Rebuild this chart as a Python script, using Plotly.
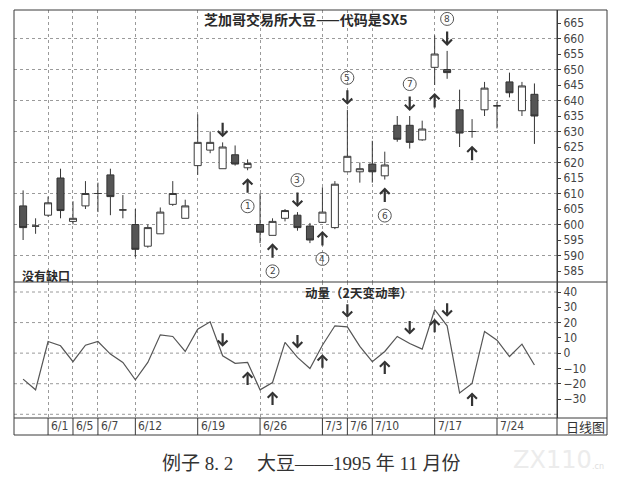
import plotly.graph_objects as go

# ---------------- data ----------------
idx = list(range(42))
opens = [606, 599.5, 603, 615, 601, 606, 610, 616, 604.7, 600,
         593, 597, 606.5, 602, 619, 624, 618, 622.5, 618.3, 600,
         596.5, 602, 603, 599.5, 600.7, 599, 617, 617, 619.5, 615.7,
         632, 632, 627.3, 650.7, 650, 637, 630, 637, 638.3, 646,
         636.7, 642]
highs = [611, 602, 609, 618, 607.5, 614, 613.5, 618, 609.5, 605,
         600, 605.5, 614, 608, 635.5, 630, 626.5, 625.5, 621, 610,
         602, 605, 604, 600.5, 612, 614, 637, 620, 627, 623.5,
         635, 635, 633.5, 661, 656, 643.5, 634, 646, 639.5, 649,
         646, 645.5]
lows = [595, 597, 602.5, 602, 600, 605, 604, 603, 602, 589.5,
        592.5, 597, 606, 602, 616, 623, 618, 619, 617.5, 594,
        596.5, 601, 598, 594, 600.5, 598.5, 617, 613.5, 613.5, 614.5,
        626.7, 624.5, 627, 645, 647, 625, 628, 635, 631, 641,
        635, 626]
closes = [599, 599.5, 607, 604.5, 602, 610, 610, 609, 604.7, 592,
          599, 604, 610, 606, 626.5, 626.5, 625, 619.5, 619.7, 597.5,
          601, 604.5, 599, 595, 604, 613, 622, 618, 617, 619.2,
          627.5, 626.5, 630.8, 655, 649, 629.5, 630, 644, 638.3, 642.5,
          644.7, 635]
momentum = [-17, -24, 7.6, 4.8, -5.6, 5.2, 7.6, -0.6, -6.1, -17.4,
            -6.1, 12, 10.9, 1.1, 15.7, 20.5, -1.7, -6.7, -6.1, -24,
            -19.2, 7, -2.8, -10, 5.2, 17.9, 17.2, 4.4, -5.6, 1.1,
            10.9, 6.3, 2.6, 28.4, 17.9, -26.1, -19.8, 14.2, 8.5, -2.2,
            5.9, -7.8]

date_idx = [2, 4, 6, 9, 14, 19, 24, 26, 28, 33, 38]
date_labels = ["6/1", "6/5", "6/7", "6/12", "6/19", "6/26",
               "7/3", "7/6", "7/10", "7/17", "7/24"]
price_ticks = list(range(585, 670, 5))
price_grid = list(range(590, 670, 10))
mom_ticks = list(range(-30, 50, 10))
mom_grid = [-40, -20, 0, 20, 40]

arrow_down = [16, 22, 26, 31, 34]
arrow_up = [18, 20, 24, 29, 33, 36]
circle_idx = [18, 20, 22, 24, 26, 29, 31, 34]
circle_num = ["1", "2", "3", "4", "5", "6", "7", "8"]

title_text = "芝加哥交易所大豆——代码是SX5"
gap_text = "没有缺口"
mom_text = "动量（2天变动率）"
chart_type = "日线图"
caption = "例子 8. 2　 大豆——1995 年 11 月份"

# ---------------- geometry ----------------
# the page body has an 8px margin, so the figure is drawn 8px smaller and
# every reference position is shifted by that margin.
BODY = 8
W, H = 620 - BODY, 477 - BODY
ML = 14 - BODY
MT = 10 - BODY
PW, PH = 543, 408
MR = W - ML - PW
MB = H - MT - PH


def px(x):
    return (x - 14) / PW


def py(y):
    return (418 - y) / PH


SPLIT = py(282)
ROW_BOT = py(435)
RIGHT_EDGE = px(607)

INK = "#3a3a3a"
GRID = "#9a9a9a"
NARROW = "Liberation Sans Narrow, Arial Narrow, DejaVu Sans Condensed, sans-serif"
CJK = "Noto Sans CJK SC, sans-serif"

fig = go.Figure()

fig.add_trace(go.Candlestick(
    x=idx, open=opens, high=highs, low=lows, close=closes,
    increasing=dict(line=dict(color=INK, width=1), fillcolor="white"),
    decreasing=dict(line=dict(color="#333333", width=1), fillcolor="#555555"),
    whiskerwidth=0, xaxis="x", yaxis="y", showlegend=False, hoverinfo="skip"))

fig.add_trace(go.Scatter(
    x=idx, y=momentum, mode="lines", line=dict(color="#555555", width=1.2),
    xaxis="x2", yaxis="y2", showlegend=False, hoverinfo="skip"))

shapes = []
annotations = []

# horizontal dotted grids
for g in price_grid:
    shapes.append(dict(type="line", xref="paper", yref="y", x0=0, x1=1, y0=g, y1=g,
                       line=dict(color=GRID, width=1, dash="dot"), layer="below"))
for g in mom_grid:
    shapes.append(dict(type="line", xref="paper", yref="y2", x0=0, x1=1, y0=g, y1=g,
                       line=dict(color=GRID, width=1, dash="dot"), layer="below"))

# frame
shapes.append(dict(type="rect", xref="paper", yref="paper", x0=0, x1=RIGHT_EDGE,
                   y0=ROW_BOT, y1=1, line=dict(color=INK, width=1)))
for yy in (SPLIT, 0):
    shapes.append(dict(type="line", xref="paper", yref="paper", x0=0, x1=RIGHT_EDGE,
                       y0=yy, y1=yy, line=dict(color=INK, width=1)))
shapes.append(dict(type="line", xref="paper", yref="paper", x0=1, x1=1,
                   y0=ROW_BOT, y1=1, line=dict(color=INK, width=1)))

# date label row
for d, lab in zip(date_idx, date_labels):
    shapes.append(dict(type="line", xref="x", yref="paper", x0=d, x1=d,
                       y0=ROW_BOT, y1=0, line=dict(color=INK, width=1)))
    annotations.append(dict(x=d, y=(ROW_BOT) / 2, xref="x", yref="paper",
                            text=lab, showarrow=False, xanchor="left", yanchor="middle",
                            xshift=1, font=dict(family=NARROW, size=12, color="#444")))

# arrows on the candles and the momentum line
ARW = dict(showarrow=True, arrowhead=4, arrowsize=0.85, arrowwidth=2.2,
           arrowcolor="#333333", ax=0, text="")
for i in arrow_down:
    annotations.append(dict(x=i, y=highs[i], xref="x", yref="y", ay=-16, yshift=5, **ARW))
    annotations.append(dict(x=i, y=momentum[i], xref="x2", yref="y2", ay=-15, yshift=9, **ARW))
for i in arrow_up:
    annotations.append(dict(x=i, y=lows[i], xref="x", yref="y", ay=16, yshift=-8, **ARW))
    annotations.append(dict(x=i, y=momentum[i], xref="x2", yref="y2", ay=15, yshift=-9, **ARW))

# numbered circles
for i, n in zip(circle_idx, circle_num):
    if i in arrow_down:
        anchor, off = highs[i], 32
    else:
        anchor, off = lows[i], -36
    shapes.append(dict(type="circle", xref="x", yref="y", xsizemode="pixel",
                       ysizemode="pixel", xanchor=i, yanchor=anchor,
                       x0=-6.5, x1=6.5, y0=off - 6.5, y1=off + 6.5,
                       line=dict(color="#555", width=1)))
    annotations.append(dict(x=i, y=anchor, xref="x", yref="y", yshift=off,
                            text=n, showarrow=False, xanchor="center", yanchor="middle",
                            font=dict(family="DejaVu Sans, sans-serif", size=9, color="#444")))


def label(x, y, text, font, xanchor="center"):
    annotations.append(dict(x=x, y=y, xref="paper", yref="paper", text=text,
                            showarrow=False, xanchor=xanchor, yanchor="middle", font=font))


label(px(306), py(19), title_text,
      dict(family=CJK, size=14, color="#2a2a2a", weight="bold"))
label(px(20), py(275), gap_text,
      dict(family=CJK, size=12, color="#2a2a2a", weight="bold"), xanchor="left")
label(px(358), py(292), mom_text,
      dict(family=CJK, size=12.5, color="#2a2a2a", weight="bold"))
label(px(585), ROW_BOT / 2, chart_type,
      dict(family=CJK, size=13, color="#333"))
label(px(311), py(463), caption,
      dict(family="Liberation Serif, Noto Sans CJK SC, serif", size=19, color="#333"))
label(px(552), py(460), "ZX110",
      dict(family="DejaVu Sans, sans-serif", size=24, color="#ececec"))
label(px(598), py(466), ".cn",
      dict(family="DejaVu Sans, sans-serif", size=8, color="#e0e0e0"))

XR = [-0.73, 42.81]
xcommon = dict(range=XR, tickvals=date_idx, showticklabels=False, ticks="",
               showgrid=True, gridcolor=GRID, griddash="dot", gridwidth=1,
               zeroline=False, showline=False, fixedrange=True)
ycommon = dict(side="right", ticks="outside", ticklen=3, tickcolor=INK,
               showline=True, linecolor=INK, showgrid=False, zeroline=False,
               tickfont=dict(family=NARROW, size=12, color="#444"), fixedrange=True)

fig.update_layout(
    width=W, height=H, margin=dict(l=ML, r=MR, t=MT, b=MB),
    paper_bgcolor="white", plot_bgcolor="white",
    boxgap=0.25, boxgroupgap=0.25,
    xaxis=dict(domain=[0, 1], anchor="y", rangeslider=dict(visible=False), **xcommon),
    xaxis2=dict(domain=[0, 1], anchor="y2", matches="x", **xcommon),
    yaxis=dict(domain=[SPLIT, 1], anchor="x", range=[581.45, 669.2],
               tickvals=price_ticks, **ycommon),
    yaxis2=dict(domain=[0, SPLIT], anchor="x2", range=[-42.43, 46.54],
                tickvals=mom_ticks, **ycommon),
    shapes=shapes, annotations=annotations, showlegend=False,
)

fig.write_html("out.html")
